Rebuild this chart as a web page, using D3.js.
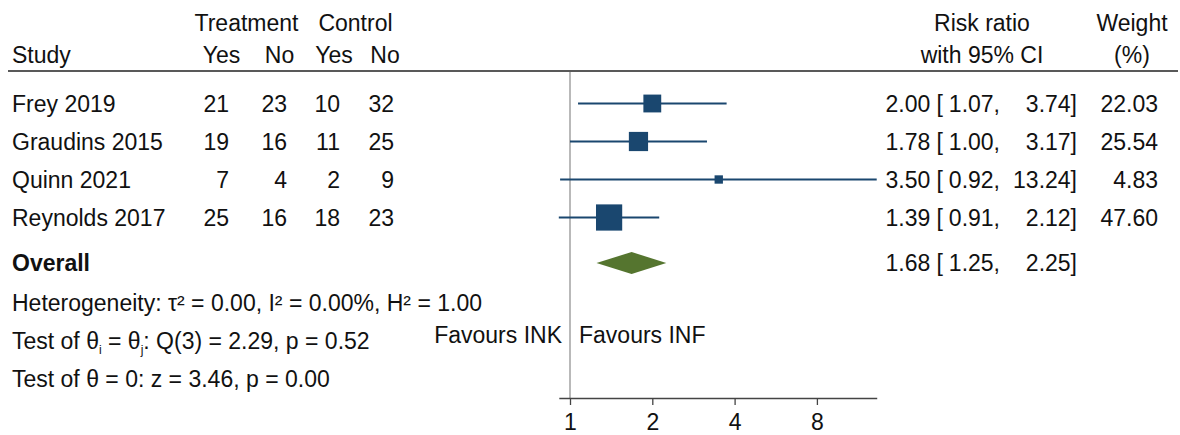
<!DOCTYPE html>
<html>
<head>
<meta charset="utf-8">
<script src="https://cdn.jsdelivr.net/npm/d3@7"></script>
<style>
  body { margin: 0; background: #fff; }
  text { font-family: "Liberation Sans", Arial, sans-serif; font-size: 23px; fill: #111; }
</style>
</head>
<body>
<svg id="chart"></svg>
<script>
// study rows
const studies  = ["Frey 2019", "Graudins 2015", "Quinn 2021", "Reynolds 2017"];
const treatYes = [21, 19, 7, 25];
const treatNo  = [23, 16, 4, 16];
const ctrlYes  = [10, 11, 2, 18];
const ctrlNo   = [32, 25, 9, 23];
const rr       = [2.00, 1.78, 3.50, 1.39];
const ciLow    = [1.07, 1.00, 0.92, 0.91];
const ciHigh   = [3.74, 3.17, 13.24, 2.12];
const weight   = [22.03, 25.54, 4.83, 47.60];

// pooled estimate
const overallRR = [1.68, 1.25, 2.25];

const axisTicks = [1, 2, 4, 8];
const statLines = [
  "Heterogeneity: τ² = 0.00, I² = 0.00%, H² = 1.00",
  "Test of θ = 0: z = 3.46, p = 0.00"
];

const W = 1180, H = 435;
const svg = d3.select("#chart").attr("width", W).attr("height", H);

// log2 scale, 1 -> 570, ~82.3px per doubling
const perDoubling = 82.3, x1 = 570;
const lo = d3.min(ciLow), hi = d3.max(ciHigh);
const x = d3.scaleLog().base(2)
  .domain([lo, hi])
  .range([x1 + perDoubling * Math.log2(lo), x1 + perDoubling * Math.log2(hi)]);

const y = d3.scalePoint().domain(studies).range([103.5, 217.5]);
const yOverall = 263;
const axisY = 398;
const navy = "#1a476f", green = "#55752f";

// header
const hdr = svg.append("g");
[["Treatment", 246.5, 31], ["Control", 355.5, 31],
 ["Yes", 221.5, 63], ["No", 279.5, 63], ["Yes", 334, 63], ["No", 385, 63],
 ["Risk ratio", 982, 31], ["with 95% CI", 982, 63],
 ["Weight", 1132, 31], ["(%)", 1132, 63]].forEach(([t, px, py]) => {
  hdr.append("text").attr("x", px).attr("y", py).attr("text-anchor", "middle").text(t);
});
hdr.append("text").attr("x", 12).attr("y", 63).text("Study");
svg.append("line").attr("x1", 8).attr("x2", 1178).attr("y1", 71).attr("y2", 71)
  .attr("stroke", "#222").attr("stroke-width", 1.4);

// no-effect line
svg.append("line").attr("x1", x(1)).attr("x2", x(1)).attr("y1", 72).attr("y2", axisY)
  .attr("stroke", "#8a8a8a").attr("stroke-width", 1.2);

// axis
const ax = svg.append("g").attr("transform", `translate(0,${axisY})`)
  .call(d3.axisBottom(x).tickValues(axisTicks).tickFormat(d3.format("d")).tickSize(7).tickSizeOuter(0));
ax.select(".domain").attr("stroke", "#444").attr("stroke-width", 1.3);
ax.selectAll(".tick line").attr("stroke", "#444").attr("stroke-width", 1.3);
ax.selectAll(".tick text").attr("font-size", 23).attr("font-family", "Liberation Sans, Arial, sans-serif")
  .attr("fill", "#111").attr("dy", "0.95em");

// rows
const rows = studies.map((s, i) => ({
  s, ty: treatYes[i], tn: treatNo[i], cy: ctrlYes[i], cn: ctrlNo[i],
  rr: rr[i], lo: ciLow[i], hi: ciHigh[i], w: weight[i]
}));

const g = svg.selectAll("g.row").data(rows).join("g").attr("class", "row");
g.append("text").attr("x", 12).attr("y", d => y(d.s) + 8).text(d => d.s);
[["ty", 229], ["tn", 287], ["cy", 340], ["cn", 394]].forEach(([k, px]) => {
  g.append("text").attr("x", px).attr("y", d => y(d.s) + 8).attr("text-anchor", "end").text(d => d[k]);
});
g.append("line")
  .attr("x1", d => x(d.lo)).attr("x2", d => x(d.hi))
  .attr("y1", d => y(d.s)).attr("y2", d => y(d.s))
  .attr("stroke", navy).attr("stroke-width", 1.8);
const side = w => 3.8 * Math.sqrt(w);
g.append("rect")
  .attr("x", d => x(d.rr) - side(d.w) / 2).attr("y", d => y(d.s) - side(d.w) / 2)
  .attr("width", d => side(d.w)).attr("height", d => side(d.w))
  .attr("fill", navy);

const f2 = d3.format(".2f");
function ciText(sel, yy, r, l, h) {
  sel.append("text").attr("x", 943).attr("y", yy).attr("text-anchor", "end").text(`${f2(r)} [`);
  sel.append("text").attr("x", 1000).attr("y", yy).attr("text-anchor", "end").text(`${f2(l)},`);
  sel.append("text").attr("x", 1077).attr("y", yy).attr("text-anchor", "end").text(`${f2(h)}]`);
}
g.each(function(d) {
  const sel = d3.select(this);
  ciText(sel, y(d.s) + 8, d.rr, d.lo, d.hi);
  sel.append("text").attr("x", 1158).attr("y", y(d.s) + 8).attr("text-anchor", "end").text(f2(d.w));
});

// overall
svg.append("text").attr("x", 12).attr("y", yOverall + 8).attr("font-weight", "bold").text("Overall");
const [oR, oL, oH] = overallRR;
svg.append("path")
  .attr("d", `M${x(oL)},${yOverall} L${x(oR)},${yOverall - 11} L${x(oH)},${yOverall} L${x(oR)},${yOverall + 11} Z`)
  .attr("fill", green);
ciText(svg, yOverall + 8, oR, oL, oH);

// stats
svg.append("text").attr("x", 12).attr("y", 311).text(statLines[0]);
const t2 = svg.append("text").attr("x", 12).attr("y", 349);
t2.append("tspan").text("Test of θ");
t2.append("tspan").attr("font-size", 12).attr("dy", 5).text("i");
t2.append("tspan").attr("dy", -5).text(" = θ");
t2.append("tspan").attr("font-size", 12).attr("dy", 5).text("j");
t2.append("tspan").attr("dy", -5).text(": Q(3) = 2.29, p = 0.52");
svg.append("text").attr("x", 12).attr("y", 387).text(statLines[1]);

// favours labels
svg.append("text").attr("x", x(1) - 8).attr("y", 343).attr("text-anchor", "end").text("Favours INK");
svg.append("text").attr("x", x(1) + 9).attr("y", 343).text("Favours INF");
</script>
</body>
</html>
